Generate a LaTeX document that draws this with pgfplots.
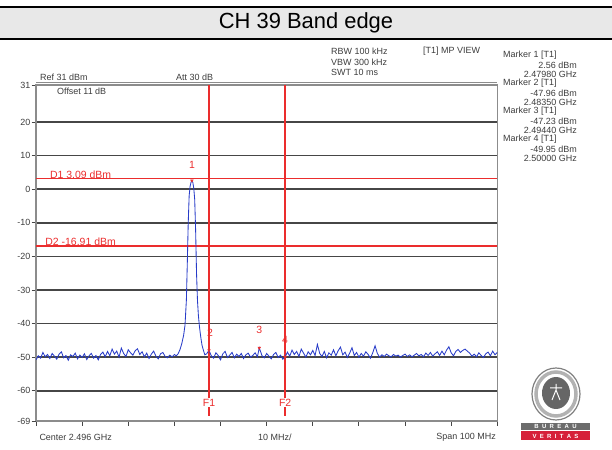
\documentclass[border=0pt]{standalone}
\usepackage{fontspec}
\setmainfont{Liberation Sans}
\usepackage{pgfplots}
\pgfplotsset{compat=1.18}
\definecolor{trace}{RGB}{40,60,200}
\definecolor{mred}{RGB}{235,45,45}
\definecolor{gridc}{RGB}{70,70,70}
\definecolor{framec}{RGB}{140,140,140}
\definecolor{txt}{RGB}{60,60,60}
\definecolor{band}{RGB}{232,232,232}
\definecolor{bvred}{RGB}{214,32,58}
\newcommand\sm{\fontsize{9}{9}\selectfont}
\newcommand\mk{\fontsize{10.5}{11}\selectfont}

\pgfplotstableread{
f p
2446.0 -50.8
2446.5 -49.6
2447.0 -50.3
2447.5 -48.6
2448.0 -49.9
2448.5 -49.2
2449.0 -50.4
2449.5 -48.9
2450.0 -49.7
2450.5 -50.6
2451.0 -49.1
2451.5 -48.4
2452.0 -50.2
2452.5 -49.5
2453.0 -50.9
2453.5 -49.3
2454.0 -49.8
2454.5 -48.8
2455.0 -50.5
2455.5 -49.4
2456.0 -50.1
2456.5 -49.0
2457.0 -50.7
2457.5 -49.6
2458.0 -48.9
2458.5 -50.3
2459.0 -49.5
2459.5 -50.8
2460.0 -49.2
2460.5 -48.5
2461.0 -49.9
2461.5 -48.3
2462.0 -49.6
2462.5 -47.6
2463.0 -49.1
2463.5 -48.2
2464.0 -50.0
2464.5 -47.3
2465.0 -48.9
2465.5 -49.8
2466.0 -47.8
2466.5 -48.7
2467.0 -49.4
2467.5 -48.1
2468.0 -47.5
2468.5 -49.2
2469.0 -48.4
2469.5 -49.9
2470.0 -48.8
2470.5 -50.4
2471.0 -49.1
2471.5 -48.2
2472.0 -49.7
2472.5 -50.5
2473.0 -49.0
2473.5 -48.6
2474.0 -49.8
2474.5 -50.2
2475.0 -49.4
2475.5 -49.9
2476.0 -49.2
2476.4 -49.6
2476.8 -49.0
2477.2 -47.8
2477.6 -46.0
2478.0 -43.5
2478.3 -40.5
2478.6 -33.0
2478.8 -22.0
2479.0 -10.0
2479.2 -2.0
2479.4 0.8
2479.6 2.0
2479.8 2.56
2480.0 2.0
2480.2 0.3
2480.4 -3.0
2480.6 -12.0
2480.8 -25.0
2481.0 -33.0
2481.2 -37.5
2481.4 -40.5
2481.6 -42.8
2481.8 -44.8
2482.0 -46.5
2482.3 -48.0
2482.6 -49.3
2483.0 -49.0
2483.5 -47.96
2484.0 -49.6
2484.5 -50.3
2485.0 -48.7
2485.5 -49.5
2486.0 -50.8
2486.5 -49.0
2487.0 -48.3
2487.5 -50.1
2488.0 -49.4
2488.5 -48.6
2489.0 -50.2
2489.5 -49.1
2490.0 -49.8
2490.5 -48.9
2491.0 -50.4
2491.5 -49.3
2492.0 -48.8
2492.5 -50.0
2493.0 -49.5
2493.5 -48.7
2494.0 -49.9
2494.4 -47.23
2495.0 -49.6
2495.5 -50.2
2496.0 -48.9
2496.5 -49.7
2497.0 -50.5
2497.5 -49.2
2498.0 -48.6
2498.5 -50.1
2499.0 -49.4
2499.5 -50.6
2500.0 -49.95
2500.5 -48.5
2501.0 -49.7
2501.5 -47.9
2502.0 -49.2
2502.5 -48.3
2503.0 -49.8
2503.5 -47.6
2504.0 -48.8
2504.5 -50.0
2505.0 -48.4
2505.5 -49.3
2506.0 -48.0
2506.5 -49.5
2507.0 -46.2
2507.5 -48.9
2508.0 -49.8
2508.5 -48.3
2509.0 -50.2
2509.5 -48.7
2510.0 -49.4
2510.5 -47.8
2511.0 -49.6
2511.5 -48.1
2512.0 -47.0
2512.5 -49.3
2513.0 -48.5
2513.5 -50.1
2514.0 -48.8
2514.5 -47.2
2515.0 -49.5
2515.5 -48.6
2516.0 -50.0
2516.5 -48.9
2517.0 -49.7
2517.5 -48.4
2518.0 -49.2
2518.5 -50.3
2519.0 -48.7
2519.5 -46.6
2520.0 -48.9
2520.5 -50.0
2521.0 -49.3
2521.5 -49.8
2522.0 -49.1
2522.5 -49.6
2523.0 -49.9
2523.5 -49.2
2524.0 -49.7
2524.5 -49.4
2525.0 -50.0
2525.5 -49.5
2526.0 -49.1
2526.5 -49.8
2527.0 -49.3
2527.5 -49.9
2528.0 -49.4
2528.5 -48.9
2529.0 -49.6
2529.5 -49.2
2530.0 -49.9
2530.5 -48.8
2531.0 -49.5
2531.5 -48.6
2532.0 -49.7
2532.5 -49.0
2533.0 -48.4
2533.5 -49.5
2534.0 -48.2
2534.5 -49.3
2535.0 -47.9
2535.5 -46.9
2536.0 -48.7
2536.5 -49.6
2537.0 -48.3
2537.5 -47.7
2538.0 -48.6
2538.5 -48.0
2539.0 -47.6
2539.5 -48.2
2540.0 -48.8
2540.5 -49.7
2541.0 -49.1
2541.5 -49.9
2542.0 -48.7
2542.5 -49.5
2543.0 -50.1
2543.5 -49.0
2544.0 -48.5
2544.5 -49.6
2545.0 -48.2
2545.5 -49.3
2546.0 -48.6
}\tracedata

\begin{document}
\begin{tikzpicture}
\useasboundingbox (0,0) rectangle (612bp,450bp);
% title band
\fill[band] (0,411bp) rectangle (612bp,443bp);
\draw[black, line width=2.4bp] (0,443bp) -- (612bp,443bp);
\draw[black, line width=1.2bp] (0,411bp) -- (612bp,411bp);
\node[font=\fontsize{22}{24}\selectfont] at (306bp,427bp) {CH 39 Band edge};

\begin{axis}[
  at={(36bp,29bp)}, anchor=south west,
  scale only axis, width=461.3bp, height=336bp,
  xmin=2446, xmax=2546, ymin=-69, ymax=31,
  xtick={2446,2456,...,2546}, xticklabels={},
  ytick={-60,-50,-40,-30,-20,-10,0,10,20,31},
  yticklabels={-60,-50,-40,-30,-20,-10,0,10,20,31},
  extra y ticks={-69}, extra y tick labels={-69},
  extra y tick style={grid=none},
  ymajorgrids,
  major grid style={draw=gridc, line width=1.5bp},
  axis line style={draw=framec, line width=1.2bp},
  tick align=outside, xtick pos=left, ytick pos=left,
  major tick length=4.5bp,
  tick style={draw=gridc, line width=0.9bp},
  yticklabel style={font=\sm, text=txt, inner sep=1bp},
]
  % display lines D1, D2 and frequency lines F1, F2
  \addplot[draw=mred, line width=1.3bp] coordinates {(2446,3.09) (2546,3.09)};
  \addplot[draw=mred, line width=1.3bp] coordinates {(2446,-16.91) (2546,-16.91)};
  \addplot[draw=mred, line width=1.3bp] coordinates {(2483.5,31) (2483.5,-67.5)};
  \addplot[draw=mred, line width=1.3bp] coordinates {(2500,31) (2500,-67.5)};
  % trace
  \addplot[draw=trace, line width=0.85bp] table[x=f, y=p] {\tracedata};
  % markers
  \addplot[only marks, mark=triangle*, mark size=1.6bp,
    mark options={rotate=180, fill=mred, draw=mred}]
    coordinates {(2479.8,2.56) (2483.5,-47.96) (2494.4,-47.23) (2500,-49.95)};

  \node[text=mred, font=\mk, anchor=base west, inner sep=0] at (axis cs:2449,3.09) {D1 3.09 dBm};
  \node[text=mred, font=\mk, anchor=base west, inner sep=0] at (axis cs:2448,-16.91) {D2 -16.91 dBm};
  \node[text=mred, font=\mk, yshift=16bp] at (axis cs:2479.8,2.56) {1};
  \node[text=mred, font=\mk, yshift=17.5bp] at (axis cs:2483.7,-47.96) {2};
  \node[text=mred, font=\mk, yshift=17.5bp] at (axis cs:2494.4,-47.23) {3};
  \node[text=mred, font=\mk, yshift=17bp] at (axis cs:2500,-49.95) {4};
  \node[text=mred, font=\mk, fill=white, inner sep=0.5bp] at (axis cs:2483.5,-63.5) {F1};
  \node[text=mred, font=\mk, fill=white, inner sep=0.5bp] at (axis cs:2500,-63.5) {F2};
\end{axis}
% second top border line
\draw[framec, line width=0.9bp] (36bp,367.6bp) -- (497.3bp,367.6bp);

% header texts
\begin{scope}[every node/.style={font=\sm, text=txt, inner sep=0}]
  \node[anchor=west] at (40bp,372.5bp) {Ref 31 dBm};
  \node[anchor=west] at (176bp,372.5bp) {Att 30 dB};
  \node[anchor=west] at (57bp,358.3bp) {Offset 11 dB};
  \node[anchor=west] at (331bp,398.5bp) {RBW 100 kHz};
  \node[anchor=west] at (331bp,388bp) {VBW 300 kHz};
  \node[anchor=west] at (331bp,378bp) {SWT 10 ms};
  \node[anchor=west] at (423bp,398.5bp) {[T1] MP VIEW};
  \node[anchor=west] at (503bp,394.5bp) {Marker 1 [T1]};
  \node[anchor=east] at (577bp,385bp) {2.56 dBm};
  \node[anchor=east] at (577bp,375.5bp) {2.47980 GHz};
  \node[anchor=west] at (503bp,366.5bp) {Marker 2 [T1]};
  \node[anchor=east] at (577bp,357bp) {-47.96 dBm};
  \node[anchor=east] at (577bp,348bp) {2.48350 GHz};
  \node[anchor=west] at (503bp,338.5bp) {Marker 3 [T1]};
  \node[anchor=east] at (577bp,329bp) {-47.23 dBm};
  \node[anchor=east] at (577bp,320bp) {2.49440 GHz};
  \node[anchor=west] at (503bp,310.5bp) {Marker 4 [T1]};
  \node[anchor=east] at (577bp,301bp) {-49.95 dBm};
  \node[anchor=east] at (577bp,292bp) {2.50000 GHz};
  \node[anchor=west] at (39.3bp,13bp) {Center 2.496 GHz};
  \node[anchor=west] at (258bp,13bp) {10 MHz/};
  \node[anchor=east] at (496bp,13bp) {Span 100 MHz};
\end{scope}

% Bureau Veritas logo (approximate)
\draw[gray, line width=1.2bp] (556bp,56bp) ellipse (24bp and 26bp);
\draw[gray!60, line width=3.5bp] (556bp,56bp) ellipse (20bp and 22bp);
\fill[gray!80!black] (556bp,57bp) ellipse (14bp and 16bp);
\draw[white, line width=1bp] (552bp,50bp) -- (556bp,60bp) -- (560bp,50bp) (556bp,60bp) -- (556bp,66bp) (550bp,62bp) -- (562bp,62bp);
\fill[gray!85!black] (521bp,19.5bp) rectangle (590bp,27bp);
\node[text=white, font=\fontsize{6}{6}\selectfont\bfseries, inner sep=0] at (555.5bp,23.2bp) {B\ \ U\ \ R\ \ E\ \ A\ \ U};
\fill[bvred] (521bp,9.5bp) rectangle (590bp,18.5bp);
\node[text=white, font=\fontsize{6}{6}\selectfont\bfseries, inner sep=0] at (555.5bp,14bp) {V\ \ E\ \ R\ \ I\ \ T\ \ A\ \ S};
\end{tikzpicture}
\end{document}
